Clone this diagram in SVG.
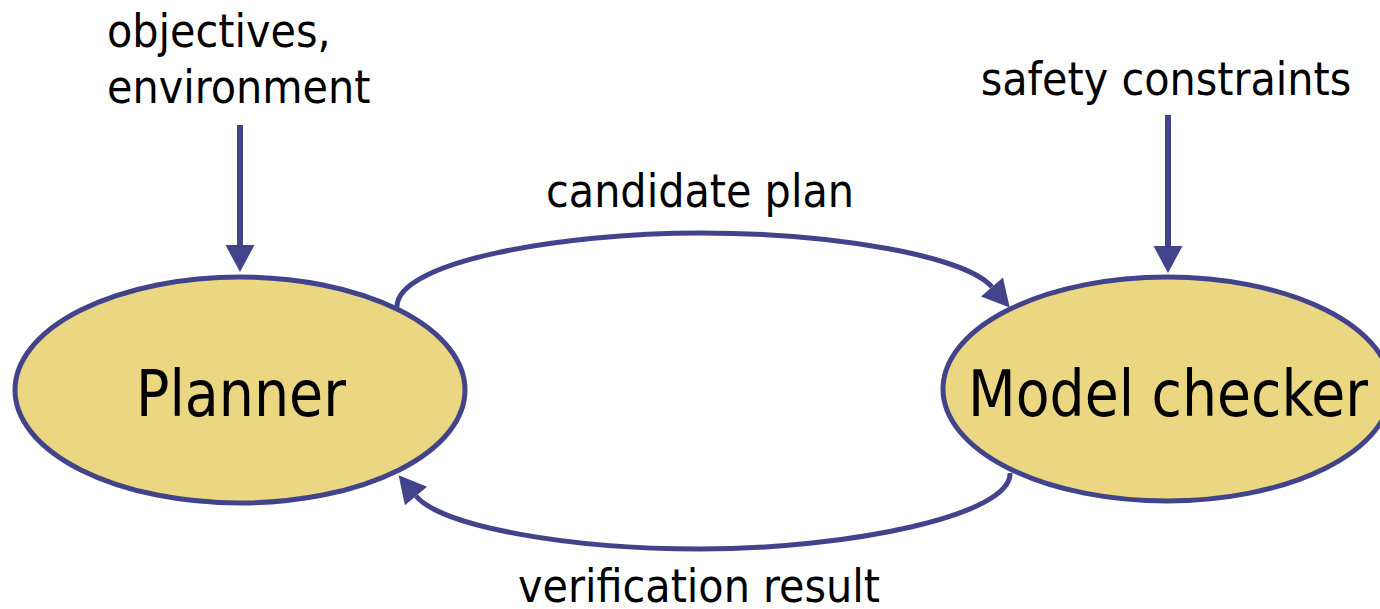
<svg xmlns="http://www.w3.org/2000/svg" width="1380" height="609" viewBox="0 0 1380 609">
  <style>
    .node { fill: #EBD682; stroke: #41448B; stroke-width: 5; }
    .title { font-family: "DejaVu Sans Condensed", "DejaVu Sans", sans-serif; font-size: 64px; fill: #000; text-anchor: middle; }
    .label { font-family: "DejaVu Sans Condensed", "DejaVu Sans", sans-serif; font-size: 46px; fill: #000; }
    .mid { text-anchor: middle; }
    .flow { fill: none; stroke: #41448B; stroke-width: 5; }
    .feed { fill: none; stroke: #41448B; stroke-width: 6; }
  </style>
  <defs>
    <marker id="head" markerUnits="userSpaceOnUse" viewBox="0 -15 28 30" markerWidth="28" markerHeight="30" refX="0" refY="0" orient="auto" overflow="visible">
      <path d="M0,-14.5 L27,0 L0,14.5 Z" fill="#41448B"/>
    </marker>
  </defs>

  <rect width="1380" height="609" fill="#fff"/>

  <g id="connectors">
    <!-- external inputs -->
    <line class="feed" x1="240" y1="125" x2="240" y2="245" marker-end="url(#head)"/>
    <line class="feed" x1="1168" y1="115" x2="1168" y2="246" marker-end="url(#head)"/>
    <!-- planner to checker -->
    <path class="flow" d="M397,307 C396,262 560,233 700,233 C840,233 966,257 992,287" marker-end="url(#head)"/>
    <!-- checker back to planner -->
    <path class="flow" d="M1010,473 C1012,515 850,549 700,549 C570,549 442,527 416,496" marker-end="url(#head)"/>
  </g>

  <g id="planner">
    <ellipse class="node" cx="240" cy="390" rx="225" ry="113"/>
    <text class="title" x="241" y="416" textLength="210" lengthAdjust="spacingAndGlyphs">Planner</text>
  </g>

  <g id="model-checker">
    <ellipse class="node" cx="1167" cy="389" rx="224" ry="112"/>
    <text class="title" x="1168" y="416" textLength="400" lengthAdjust="spacingAndGlyphs">Model checker</text>
  </g>

  <g id="labels">
    <text class="label" x="107" y="47">objectives,</text>
    <text class="label" x="107" y="103">environment</text>
    <text class="label mid" x="1166" y="95">safety constraints</text>
    <text class="label mid" x="700" y="207">candidate plan</text>
    <text class="label mid" x="699" y="602">verification result</text>
  </g>
</svg>
